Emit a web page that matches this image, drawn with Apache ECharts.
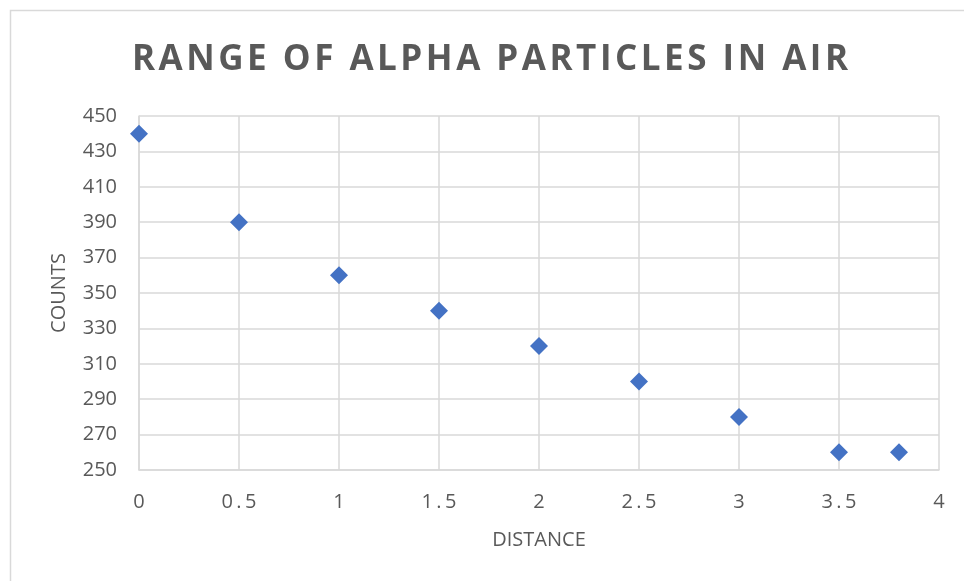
<!DOCTYPE html>
<html>
<head>
<meta charset="utf-8">
<script src="https://cdn.jsdelivr.net/npm/echarts@6/dist/echarts.min.js"></script>
<style>
  html, body { margin: 0; padding: 0; background: #fff; }
  #chart { width: 964px; height: 581px; }
</style>
</head>
<body>
<div id="chart"></div>
<script>
// Alpha particle counts measured at increasing distances in air
const distance = [0, 0.5, 1, 1.5, 2, 2.5, 3, 3.5, 3.8];
const counts = [440, 390, 360, 340, 320, 300, 280, 260, 260];

const titleText = 'RANGE OF ALPHA PARTICLES IN AIR';
const xAxisName = 'DISTANCE';
const yAxisName = 'COUNTS';

const points = distance.map((d, i) => [d, counts[i]]);

// widen text by putting a narrow space between the characters
const spaced = (s, sep) => String(s).split('').join(sep);

const chart = echarts.init(document.getElementById('chart'));
const textColor = '#595959';
const gridColor = '#d9d9d9';

chart.setOption({
  animation: false,
  backgroundColor: '#fff',
  graphic: [{
    type: 'rect',
    shape: { x: 10.5, y: 10.5, width: 1000, height: 1000 },
    style: { fill: 'none', stroke: gridColor, lineWidth: 1.5 },
    silent: true
  }],
  title: {
    text: spaced(titleText, '\u200A'),
    left: 127,
    top: 38,
    textStyle: {
      fontFamily: 'Open Sans',
      fontWeight: 'bold',
      fontSize: 35,
      color: textColor
    }
  },
  grid: { left: 139, right: 25, top: 116, bottom: 111 },
  xAxis: {
    type: 'value',
    min: 0,
    max: 4,
    interval: 0.5,
    name: xAxisName,
    nameLocation: 'middle',
    nameGap: 60,
    nameTextStyle: { fontFamily: 'Open Sans', fontSize: 20, color: textColor },
    axisLine: { show: true, lineStyle: { color: gridColor, width: 1.5 } },
    axisTick: { show: false },
    splitLine: { show: true, lineStyle: { color: gridColor, width: 1.5 } },
    axisLabel: {
      margin: 22,
      fontFamily: 'Open Sans',
      fontSize: 20,
      color: textColor,
      formatter: v => spaced(v, '\u2009')
    }
  },
  yAxis: {
    type: 'value',
    min: 250,
    max: 450,
    interval: 20,
    name: yAxisName,
    nameLocation: 'middle',
    nameGap: 70,
    nameRotate: 90,
    nameTextStyle: { fontFamily: 'Open Sans', fontSize: 20, color: textColor },
    axisLine: { show: true, lineStyle: { color: gridColor, width: 1.5 } },
    axisTick: { show: false },
    splitLine: { show: true, lineStyle: { color: gridColor, width: 1.5 } },
    axisLabel: {
      margin: 22,
      fontFamily: 'Open Sans',
      fontSize: 20,
      color: textColor
    }
  },
  series: [{
    type: 'scatter',
    data: points,
    symbol: 'diamond',
    symbolSize: [18, 18],
    itemStyle: { color: '#4472C4', opacity: 1 }
  }]
});
</script>
</body>
</html>
